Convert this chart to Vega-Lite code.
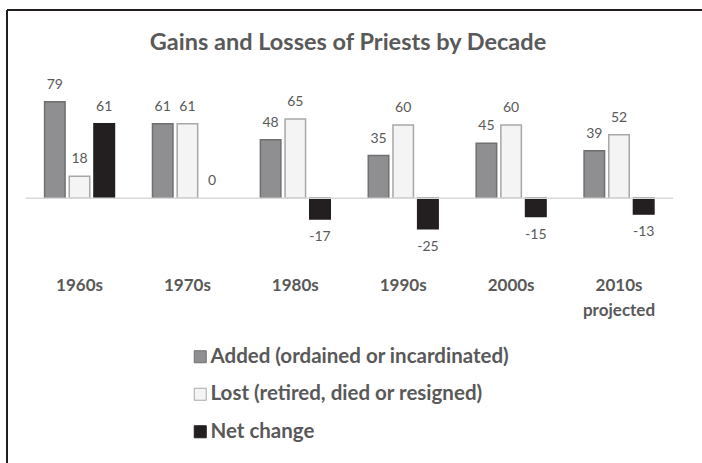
{
  "$schema": "https://vega.github.io/schema/vega-lite/v6.json",
  "autosize": {"type": "none"},
  "padding": {"left": 7, "top": 10, "right": 0, "bottom": 0},
  "width": 695,
  "height": 453,
  "background": "white",
  "config": {
    "view": {"stroke": "#231f20", "strokeWidth": 2, "strokeDash": [695, 1148, 453, 0]},
    "font": "Lato"
  },
  "title": {
    "text": "Gains and Losses of Priests by Decade",
    "font": "Lato",
    "fontSize": 23.5,
    "fontWeight": "bold",
    "color": "#595959",
    "anchor": "middle",
    "baseline": "middle",
    "offset": -56,
    "dx": -6.5
  },
  "datasets": {
    "priests": [
      {"decade": "1960s", "series": "Added (ordained or incardinated)", "value": 79},
      {"decade": "1960s", "series": "Lost (retired, died or resigned)", "value": 18},
      {"decade": "1960s", "series": "Net change", "value": 61},
      {"decade": "1970s", "series": "Added (ordained or incardinated)", "value": 61},
      {"decade": "1970s", "series": "Lost (retired, died or resigned)", "value": 61},
      {"decade": "1970s", "series": "Net change", "value": 0},
      {"decade": "1980s", "series": "Added (ordained or incardinated)", "value": 48},
      {"decade": "1980s", "series": "Lost (retired, died or resigned)", "value": 65},
      {"decade": "1980s", "series": "Net change", "value": -17},
      {"decade": "1990s", "series": "Added (ordained or incardinated)", "value": 35},
      {"decade": "1990s", "series": "Lost (retired, died or resigned)", "value": 60},
      {"decade": "1990s", "series": "Net change", "value": -25},
      {"decade": "2000s", "series": "Added (ordained or incardinated)", "value": 45},
      {"decade": "2000s", "series": "Lost (retired, died or resigned)", "value": 60},
      {"decade": "2000s", "series": "Net change", "value": -15},
      {"decade": "2010s projected", "series": "Added (ordained or incardinated)", "value": 39},
      {"decade": "2010s projected", "series": "Lost (retired, died or resigned)", "value": 52},
      {"decade": "2010s projected", "series": "Net change", "value": -13}
    ],
    "zero": [{"base": 0}]
  },
  "data": {"name": "priests"},
  "layer": [
    {
      "transform": [{"filter": "datum.value != 0"}],
      "mark": {"type": "bar", "strokeWidth": 1.5},
      "encoding": {
        "x": {
          "field": "decade", "type": "nominal",
          "scale": {
            "domain": ["1960s", "1970s", "1980s", "1990s", "2000s", "2010s projected"],
            "paddingInner": 0, "paddingOuter": 0.2206, "align": 0.39
          },
          "axis": {
            "orient": "bottom", "title": null, "domain": false, "ticks": false, "grid": false,
            "labelPadding": 0, "offset": -185.5, "labelAngle": 0,
            "labelFont": "Lato", "labelFontSize": 17, "labelFontWeight": "bold",
            "labelColor": "#595959", "labelBaseline": "top", "labelLineHeight": 25,
            "labelExpr": "split(datum.label, ' ')"
          }
        },
        "xOffset": {
          "field": "series", "type": "nominal",
          "scale": {
            "domain": ["Added (ordained or incardinated)", "Lost (retired, died or resigned)", "Net change"],
            "paddingInner": 0.17, "paddingOuter": 0.77
          }
        },
        "y": {
          "field": "value", "type": "quantitative",
          "scale": {"domain": [-217, 154.3], "nice": false, "zero": false},
          "axis": null
        },
        "fill": {
          "field": "series", "type": "nominal",
          "scale": {
            "domain": ["Added (ordained or incardinated)", "Lost (retired, died or resigned)", "Net change"],
            "range": ["#8f8f91", "#f4f4f4", "#231f20"]
          },
          "legend": {
            "orient": "none", "legendX": 183, "legendY": 336.5, "title": null,
            "symbolType": "square", "symbolSize": 144, "symbolStrokeWidth": 1,
            "labelFont": "Lato", "labelFontSize": 20.5, "labelFontWeight": "bold",
            "labelColor": "#595959", "rowPadding": 16.5, "labelOffset": 0, "padding": 0,
            "labelLimit": 0
          }
        },
        "stroke": {
          "field": "series", "type": "nominal",
          "scale": {
            "domain": ["Added (ordained or incardinated)", "Lost (retired, died or resigned)", "Net change"],
            "range": ["#707072", "#a8a8a8", "#231f20"]
          },
          "legend": {
            "orient": "none", "legendX": 183, "legendY": 336.5, "title": null,
            "symbolType": "square", "symbolSize": 144, "symbolStrokeWidth": 1,
            "labelFont": "Lato", "labelFontSize": 20.5, "labelFontWeight": "bold",
            "labelColor": "#595959", "rowPadding": 16.5, "labelOffset": 0, "padding": 0,
            "labelLimit": 0
          }
        }
      }
    },
    {
      "data": {"name": "zero"},
      "mark": {"type": "rule", "color": "#d9d9d9", "strokeWidth": 1.5},
      "encoding": {
        "x": {"datum": "1960s", "bandPosition": 0, "type": "nominal"},
        "x2": {"datum": "2010s projected", "bandPosition": 1},
        "y": {"field": "base", "type": "quantitative", "axis": null}
      }
    },
    {
      "transform": [{"filter": "datum.value >= 0"}],
      "mark": {"type": "text", "font": "Lato", "fontSize": 14, "color": "#595959", "baseline": "middle", "dy": -17},
      "encoding": {
        "x": {"field": "decade", "type": "nominal"},
        "xOffset": {"field": "series", "type": "nominal"},
        "y": {"field": "value", "type": "quantitative", "axis": null},
        "text": {"field": "value", "type": "nominal"}
      }
    },
    {
      "transform": [{"filter": "datum.value < 0"}],
      "mark": {"type": "text", "font": "Lato", "fontSize": 14, "color": "#595959", "baseline": "middle", "dy": 18},
      "encoding": {
        "x": {"field": "decade", "type": "nominal"},
        "xOffset": {"field": "series", "type": "nominal"},
        "y": {"field": "value", "type": "quantitative", "axis": null},
        "text": {"field": "value", "type": "nominal"}
      }
    }
  ]
}
